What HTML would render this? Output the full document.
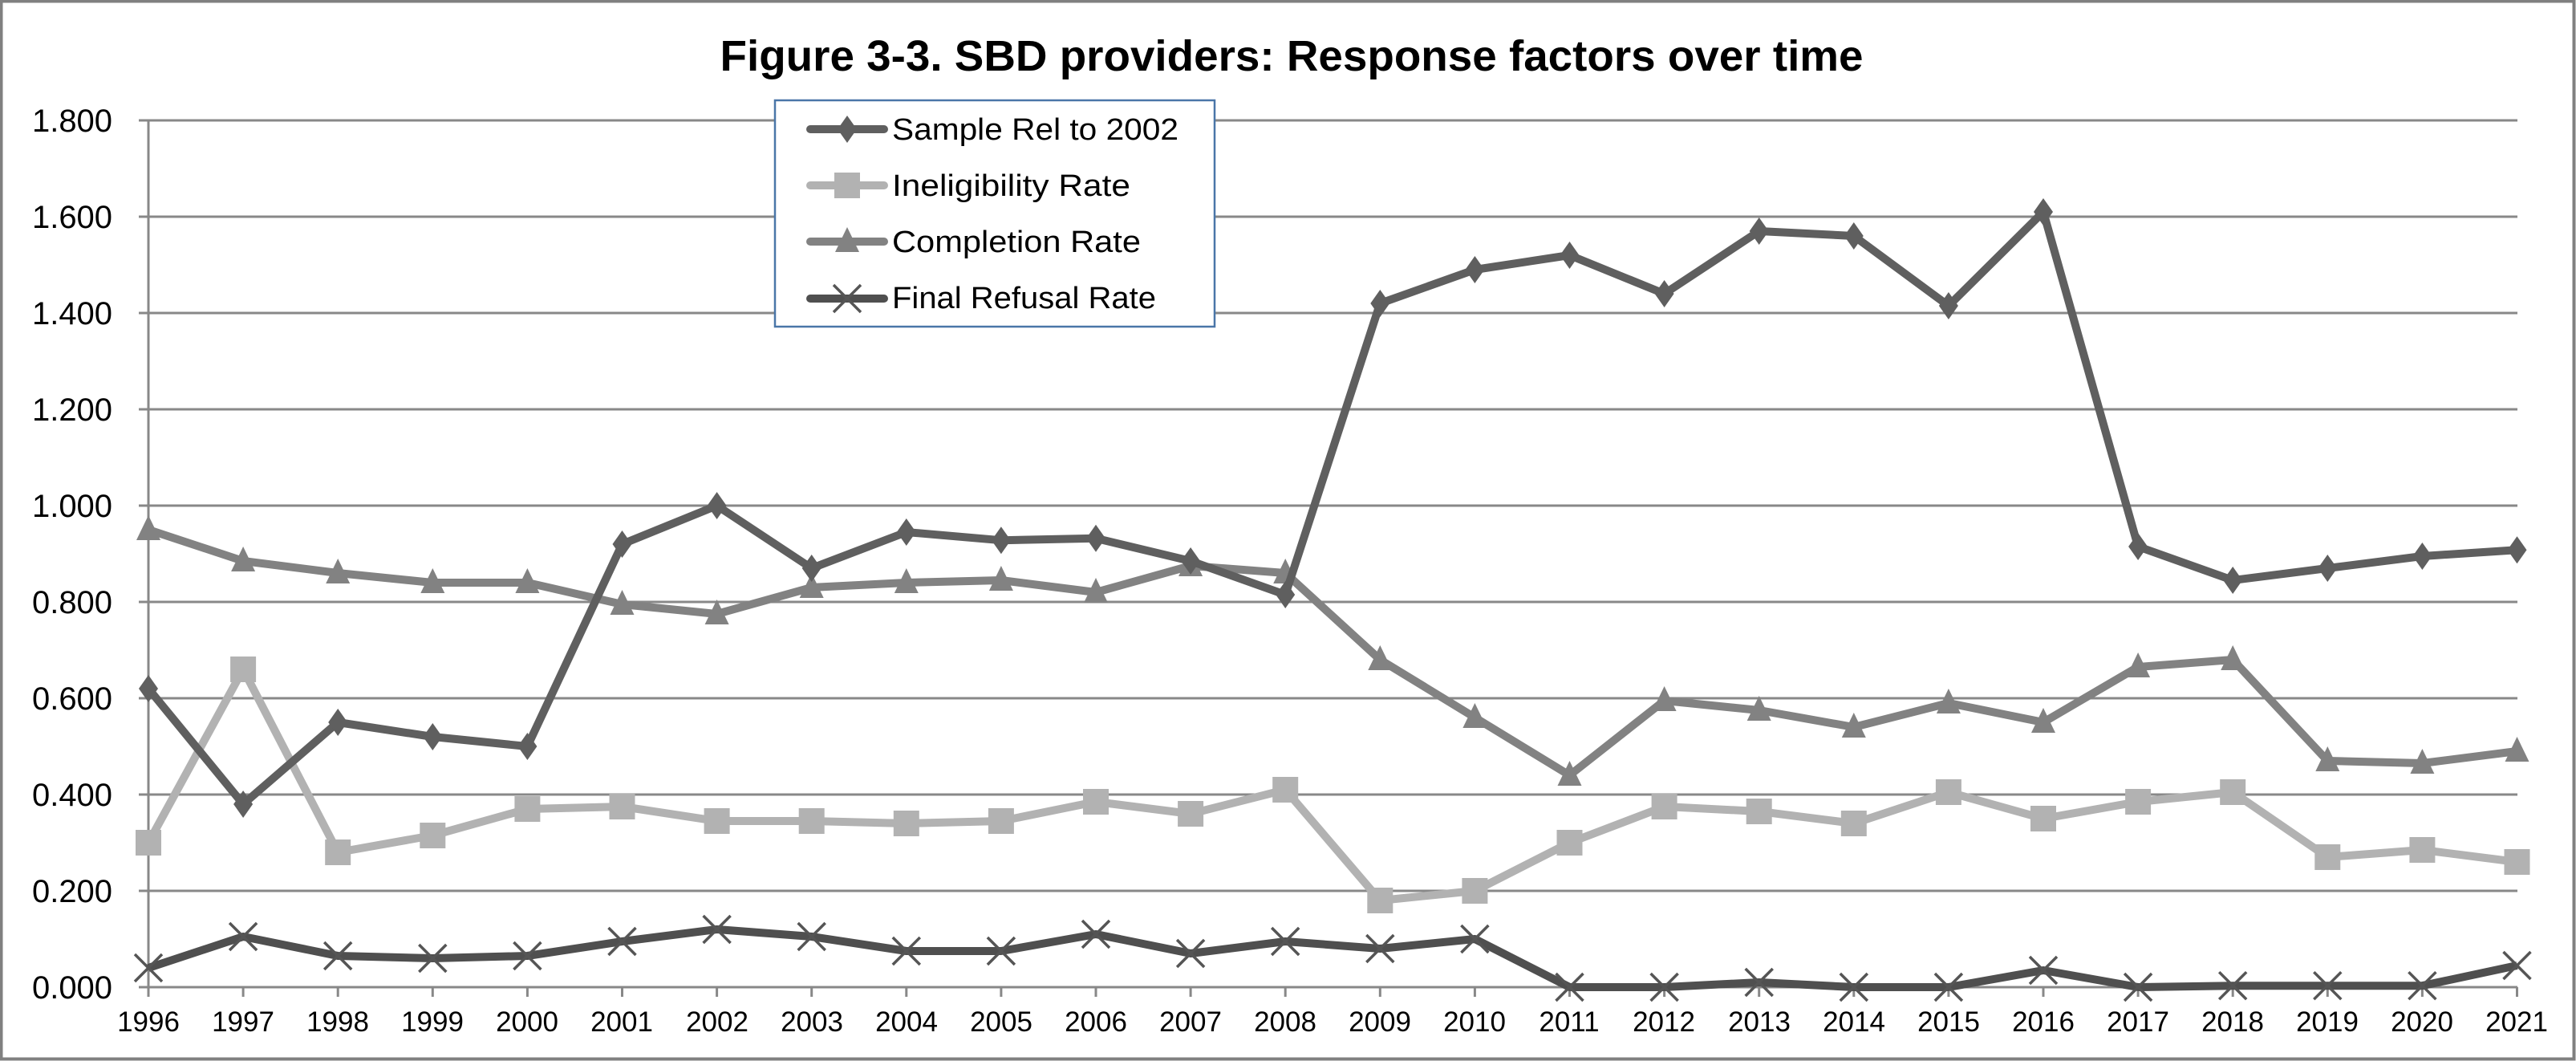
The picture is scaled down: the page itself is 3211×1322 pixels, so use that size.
<!DOCTYPE html>
<html><head><meta charset="utf-8"><style>
html,body{margin:0;padding:0;background:#fff}
svg{display:block}
</style></head><body>
<svg id="s" xmlns="http://www.w3.org/2000/svg" width="3211" height="1322" viewBox="0 0 3211 1322">
<rect x="0" y="0" width="3211" height="1322" fill="#fff"/>
<rect x="1.5" y="1.5" width="3207" height="1318" fill="none" stroke="#808080" stroke-width="4"/>
<text x="1610" y="88" text-anchor="middle" font-family="Liberation Sans, Arial, sans-serif" font-weight="bold" font-size="54" textLength="1425" lengthAdjust="spacingAndGlyphs">Figure 3-3. SBD providers: Response factors over time</text>
<g id="grid" stroke="#888" stroke-width="3"></g>
<g font-family="Liberation Sans, Arial, sans-serif" font-size="40" text-anchor="end" fill="#000">
<text x="140" y="164" textLength="100" lengthAdjust="spacingAndGlyphs">1.800</text>
<text x="140" y="284" textLength="100" lengthAdjust="spacingAndGlyphs">1.600</text>
<text x="140" y="404" textLength="100" lengthAdjust="spacingAndGlyphs">1.400</text>
<text x="140" y="524" textLength="100" lengthAdjust="spacingAndGlyphs">1.200</text>
<text x="140" y="644" textLength="100" lengthAdjust="spacingAndGlyphs">1.000</text>
<text x="140" y="764" textLength="100" lengthAdjust="spacingAndGlyphs">0.800</text>
<text x="140" y="884" textLength="100" lengthAdjust="spacingAndGlyphs">0.600</text>
<text x="140" y="1004" textLength="100" lengthAdjust="spacingAndGlyphs">0.400</text>
<text x="140" y="1124" textLength="100" lengthAdjust="spacingAndGlyphs">0.200</text>
<text x="140" y="1244" textLength="100" lengthAdjust="spacingAndGlyphs">0.000</text>
</g>
<g font-family="Liberation Sans, Arial, sans-serif" font-size="35" text-anchor="middle" fill="#000">
<text x="185" y="1285">1996</text><text x="303" y="1285">1997</text><text x="421" y="1285">1998</text><text x="539" y="1285">1999</text><text x="657" y="1285">2000</text><text x="775" y="1285">2001</text><text x="894" y="1285">2002</text><text x="1012" y="1285">2003</text><text x="1130" y="1285">2004</text><text x="1248" y="1285">2005</text><text x="1366" y="1285">2006</text><text x="1484" y="1285">2007</text><text x="1602" y="1285">2008</text><text x="1720" y="1285">2009</text><text x="1838" y="1285">2010</text><text x="1956" y="1285">2011</text><text x="2074" y="1285">2012</text><text x="2193" y="1285">2013</text><text x="2311" y="1285">2014</text><text x="2429" y="1285">2015</text><text x="2547" y="1285">2016</text><text x="2665" y="1285">2017</text><text x="2783" y="1285">2018</text><text x="2901" y="1285">2019</text><text x="3019" y="1285">2020</text><text x="3137" y="1285">2021</text>
</g>
<g id="series"></g>
<rect x="966" y="125" width="548" height="282" fill="#fff" stroke="#4a76a8" stroke-width="2.5"/>
<g id="leg"></g>
<g font-family="Liberation Sans, Arial, sans-serif" font-size="38" fill="#000">
<text x="1112" y="174" textLength="357" lengthAdjust="spacingAndGlyphs">Sample Rel to 2002</text>
<text x="1112" y="244" textLength="297" lengthAdjust="spacingAndGlyphs">Ineligibility Rate</text>
<text x="1112" y="314" textLength="310" lengthAdjust="spacingAndGlyphs">Completion Rate</text>
<text x="1112" y="384" textLength="329" lengthAdjust="spacingAndGlyphs">Final Refusal Rate</text>
</g>
</svg>
<script>
var NS="http://www.w3.org/2000/svg";
function el(p,t,a){var e=document.createElementNS(NS,t);for(var k in a)e.setAttribute(k,a[k]);p.appendChild(e);return e;}
var X0=185,DX=118.1,Y0=1230,S=600;
function X(i){return X0+DX*i;} function Y(v){return Y0-S*v;}
var g=document.getElementById('grid');
for(var k=1;k<=9;k++){el(g,'line',{x1:173,x2:3138,y1:Y(k*0.2),y2:Y(k*0.2)});}
el(g,'line',{x1:173,x2:3138,y1:Y0,y2:Y0});
el(g,'line',{x1:X0,x2:X0,y1:Y(1.8),y2:Y0+12});
for(var i=0;i<26;i++)el(g,'line',{x1:X(i),x2:X(i),y1:Y0,y2:Y0+12});
var D={
s:[.62,.38,.55,.52,.50,.92,1.0,.87,.945,.928,.932,.885,.815,1.42,1.49,1.52,1.44,1.57,1.56,1.415,1.61,.915,.845,.87,.895,.908],
i:[.30,.66,.28,.315,.37,.375,.345,.345,.34,.345,.385,.36,.41,.18,.20,.30,.375,.365,.34,.405,.35,.385,.405,.27,.285,.26],
c:[.95,.885,.86,.84,.84,.795,.775,.83,.84,.845,.82,.875,.86,.68,.56,.44,.595,.575,.54,.59,.55,.665,.68,.47,.465,.49],
r:[.04,.105,.065,.06,.065,.095,.12,.105,.075,.075,.11,.07,.095,.08,.10,0,0,.01,0,0,.035,0,.003,.003,.003,.045]};
var C={s:'#5f5f5f',i:'#b2b2b2',c:'#828282',r:'#4f4f4f'};
function marker(p,t,x,y){
 if(t=='s')el(p,'polygon',{points:[x,y-17,x+12,y,x,y+17,x-12,y].join(' '),fill:'#5f5f5f'});
 if(t=='i')el(p,'rect',{x:x-16,y:y-16,width:32,height:32,fill:'#b2b2b2'});
 if(t=='c')el(p,'polygon',{points:[x,y-18,x+15,y+13,x-15,y+13].join(' '),fill:'#828282'});
 if(t=='r'){el(p,'path',{d:'M'+(x-17)+' '+(y-17)+'L'+(x+17)+' '+(y+17)+'M'+(x+17)+' '+(y-17)+'L'+(x-17)+' '+(y+17),stroke:'#555',"stroke-width":3.5,fill:'none'});}
}
var sg=document.getElementById('series');
['r','c','i','s'].forEach(function(t){
 var pts=D[t].map(function(v,i){return X(i)+','+Y(v);}).join(' ');
 el(sg,'polyline',{points:pts,fill:'none',stroke:C[t],"stroke-width":10,"stroke-linejoin":"round"});
 D[t].forEach(function(v,i){marker(sg,t,X(i),Y(v));});
});
var lg=document.getElementById('leg');var LY={s:161,i:231,c:301,r:372};
['s','i','c','r'].forEach(function(t){
 el(lg,'line',{x1:1010,x2:1102,y1:LY[t],y2:LY[t],stroke:C[t],"stroke-width":10,"stroke-linecap":"round"});
 marker(lg,t,1056,LY[t]);
});
</script>
</body></html>
